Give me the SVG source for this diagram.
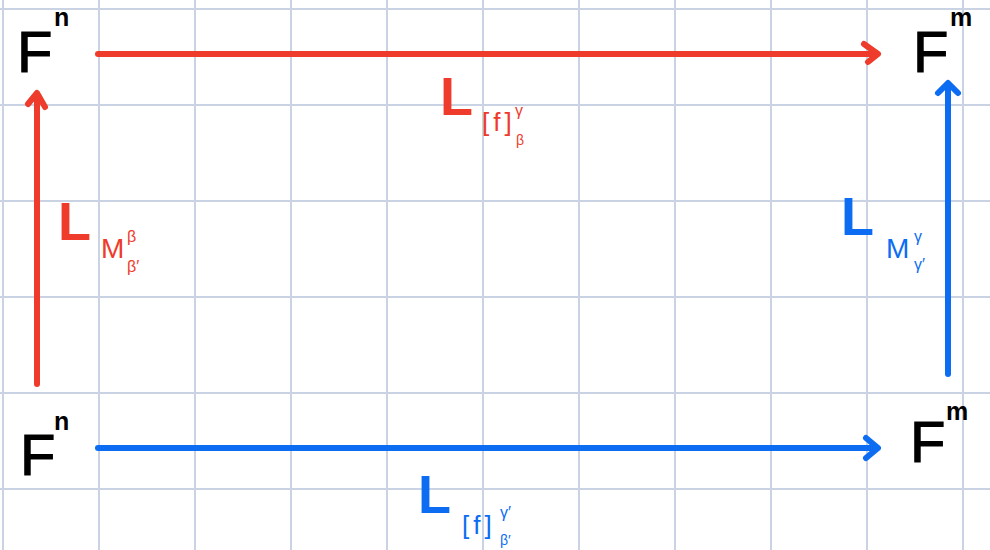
<svg xmlns="http://www.w3.org/2000/svg" width="990" height="550" viewBox="0 0 990 550">
<style>
.grid line{stroke:#c9d3e3;stroke-width:2}
.red{stroke:#ee3b2b;fill:none;stroke-width:6;stroke-linecap:round;stroke-linejoin:round}
.blue{stroke:#0c6cf2;fill:none;stroke-width:6;stroke-linecap:round;stroke-linejoin:round}
.F{font-family:"Liberation Sans",Arial,sans-serif;font-size:58px;fill:#000;stroke:#000;stroke-width:1}
.sup{font-family:"Liberation Sans",Arial,sans-serif;font-size:25px;font-weight:bold;fill:#000}
.L{font-family:"Liberation Sans",Arial,sans-serif;font-size:54px;font-weight:bold}
.s{font-family:"Liberation Sans",Arial,sans-serif}
.r{fill:#ee3b2b}
.b{fill:#0c6cf2}
</style>
<rect width="990" height="550" fill="#ffffff"/>
<g class="grid">
<line x1="3" y1="0" x2="3" y2="550"/><line x1="99" y1="0" x2="99" y2="550"/><line x1="195" y1="0" x2="195" y2="550"/><line x1="291" y1="0" x2="291" y2="550"/><line x1="387" y1="0" x2="387" y2="550"/><line x1="483" y1="0" x2="483" y2="550"/><line x1="579" y1="0" x2="579" y2="550"/><line x1="675" y1="0" x2="675" y2="550"/><line x1="771" y1="0" x2="771" y2="550"/><line x1="867" y1="0" x2="867" y2="550"/><line x1="963" y1="0" x2="963" y2="550"/>
<line x1="0" y1="9" x2="990" y2="9"/><line x1="0" y1="105" x2="990" y2="105"/><line x1="0" y1="201" x2="990" y2="201"/><line x1="0" y1="297" x2="990" y2="297"/><line x1="0" y1="393" x2="990" y2="393"/><line x1="0" y1="489" x2="990" y2="489"/>
</g>
<g id="connectors">
<g id="top-arrow" class="red"><line x1="98" y1="54" x2="877" y2="54"/><polyline points="864,44 878,54 868,62"/></g>
<g id="left-arrow" class="red"><line x1="37" y1="384" x2="37" y2="94"/><polyline points="28,104 37,93 45,107"/></g>
<g id="right-arrow" class="blue"><line x1="948" y1="374" x2="948" y2="84"/><polyline points="938,93 948,83 958,93"/></g>
<g id="bottom-arrow" class="blue"><line x1="98" y1="448" x2="877" y2="448"/><polyline points="866,438 878,448 866,458"/></g>
</g>
<g id="node-tl"><text class="F" x="17" y="72">F</text><text class="sup" x="54" y="26">n</text></g>
<g id="node-tr"><text class="F" x="913" y="72">F</text><text class="sup" x="950" y="26">m</text></g>
<g id="node-bl"><text class="F" x="20" y="475">F</text><text class="sup" x="54" y="430">n</text></g>
<g id="node-br"><text class="F" x="910" y="462">F</text><text class="sup" x="946" y="420">m</text></g>
<g id="label-top" class="r"><text class="L" x="440" y="115">L</text><text class="s" x="482" y="131" font-size="26" letter-spacing="4">[f]</text><text class="s" x="515" y="116" font-size="16">γ</text><text class="s" x="516" y="145" font-size="14">β</text></g>
<g id="label-left" class="r"><text class="L" x="58" y="240">L</text><text class="s" x="101" y="258" font-size="28">M</text><text class="s" x="127" y="242" font-size="16">β</text><text class="s" x="127" y="272" font-size="16">β′</text></g>
<g id="label-right" class="b"><text class="L" x="841" y="235">L</text><text class="s" x="886" y="258" font-size="28">M</text><text class="s" x="914" y="242" font-size="16">γ</text><text class="s" x="914" y="270" font-size="16">γ′</text></g>
<g id="label-bottom" class="b"><text class="L" x="418" y="513">L</text><text class="s" x="462" y="534" font-size="26" letter-spacing="4">[f]</text><text class="s" x="500" y="518" font-size="16">γ′</text><text class="s" x="500" y="545" font-size="14">β′</text></g>
</svg>
